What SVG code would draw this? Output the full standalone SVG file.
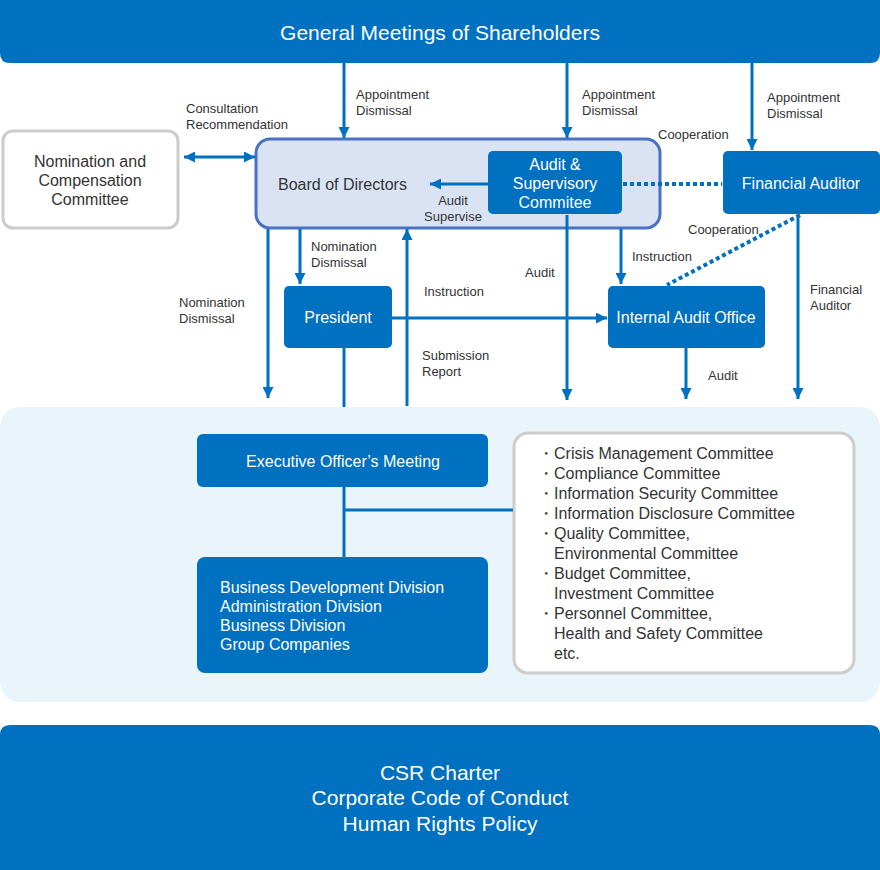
<svg xmlns="http://www.w3.org/2000/svg" width="880" height="870" viewBox="0 0 880 870">
<defs>
<marker id="ah" viewBox="0 0 10 10" refX="10" refY="5" markerWidth="11" markerHeight="11" markerUnits="userSpaceOnUse" orient="auto-start-reverse"><path d="M0,0 L10,5 L0,10 z" fill="#0070C0"/></marker>
<style>
.blue{fill:#0070C0}
.wt{fill:#fff;font-family:"Liberation Sans",Arial,sans-serif;font-size:16px}
.big{fill:#fff;font-family:"Liberation Sans",Arial,sans-serif;font-size:21px}
.lbl{fill:#333;font-family:"Liberation Sans",Arial,sans-serif;font-size:13px}
.dk{fill:#333;font-family:"Liberation Sans",Arial,sans-serif;font-size:16px}
.ln{stroke:#0070C0;stroke-width:3;fill:none}
.ar{stroke:#0070C0;stroke-width:3;fill:none;marker-end:url(#ah)}
.dot{stroke:#0070C0;stroke-width:4;fill:none;stroke-dasharray:4 3}
</style>
</defs>
<rect x="0" y="407" width="880" height="295" rx="20" fill="#EAF4FB"/>
<g id="shareholders"><path class="blue" d="M0,0 H880 V53 Q880,63 870,63 H10 Q0,63 0,53 Z"/><text class="big" x="440" y="40" text-anchor="middle">General Meetings of Shareholders</text></g>
<g id="nomination"><rect x="3" y="131" width="175" height="97" rx="10" fill="#fff" stroke="#CCCCCC" stroke-width="3"/><text class="dk" x="90" y="167" text-anchor="middle">Nomination and</text><text class="dk" x="90" y="186" text-anchor="middle">Compensation</text><text class="dk" x="90" y="205" text-anchor="middle">Committee</text></g>
<g id="board"><rect x="256" y="139" width="404" height="89" rx="14" fill="#DAE3F3" stroke="#4A72C4" stroke-width="3"/><text class="dk" x="278" y="190" fill="#222">Board of Directors</text></g>
<g id="audit-committee"><rect class="blue" x="488" y="151" width="134" height="63" rx="5"/><text class="wt" x="555" y="170" text-anchor="middle">Audit &amp;</text><text class="wt" x="555" y="189" text-anchor="middle">Supervisory</text><text class="wt" x="555" y="208" text-anchor="middle">Commitee</text></g>
<g id="financial-auditor"><rect class="blue" x="723" y="151" width="157" height="63" rx="5"/><text class="wt" x="801" y="189" text-anchor="middle">Financial Auditor</text></g>
<g id="president"><rect class="blue" x="284" y="286" width="108" height="62" rx="5"/><text class="wt" x="338" y="323" text-anchor="middle">President</text></g>
<g id="internal-audit"><rect class="blue" x="608" y="286" width="157" height="62" rx="5"/><text class="wt" x="686" y="323" text-anchor="middle">Internal Audit Office</text></g>
<g id="executive"><rect class="blue" x="197" y="434" width="291" height="53" rx="6"/><text class="wt" x="343" y="467" text-anchor="middle">Executive Officer’s Meeting</text></g>
<g id="divisions"><rect class="blue" x="197" y="557" width="291" height="116" rx="8"/><text class="wt" x="220" y="593">Business Development Division</text><text class="wt" x="220" y="612">Administration Division</text><text class="wt" x="220" y="631">Business Division</text><text class="wt" x="220" y="650">Group Companies</text></g>
<g id="committees"><rect x="514" y="433" width="340" height="240" rx="14" fill="#fff" stroke="#CCCCCC" stroke-width="3"/>
<g class="dk"><text x="538" y="459">・</text><text x="554" y="459">Crisis Management Committee</text>
<text x="538" y="479">・</text><text x="554" y="479">Compliance Committee</text>
<text x="538" y="499">・</text><text x="554" y="499">Information Security Committee</text>
<text x="538" y="519">・</text><text x="554" y="519">Information Disclosure Committee</text>
<text x="538" y="539">・</text><text x="554" y="539">Quality Committee,</text>
<text x="554" y="559">Environmental Committee</text>
<text x="538" y="579">・</text><text x="554" y="579">Budget Committee,</text>
<text x="554" y="599">Investment Committee</text>
<text x="538" y="619">・</text><text x="554" y="619">Personnel Committee,</text>
<text x="554" y="639">Health and Safety Committee</text>
<text x="554" y="659">etc.</text></g></g>
<g id="charter"><path class="blue" d="M0,735 Q0,725 10,725 H870 Q880,725 880,735 V870 H0 Z"/><text class="big" x="440" y="780" text-anchor="middle">CSR Charter</text><text class="big" x="440" y="805" text-anchor="middle">Corporate Code of Conduct</text><text class="big" x="440" y="831" text-anchor="middle">Human Rights Policy</text></g>
<g id="connectors">
<line class="ar" x1="344" y1="63" x2="344" y2="138"/>
<line class="ar" x1="567" y1="63" x2="567" y2="138"/>
<line class="ar" x1="752" y1="63" x2="752" y2="150"/>
<line class="ar" x1="184" y1="157" x2="255" y2="157" style="marker-start:url(#ah)"/>
<line class="ar" x1="488" y1="184" x2="430" y2="184"/>
<line class="dot" x1="623" y1="184" x2="722" y2="184"/>
<line class="dot" x1="800" y1="215" x2="667" y2="285"/>
<line class="ar" x1="268" y1="229" x2="268" y2="398"/>
<line class="ar" x1="300" y1="229" x2="300" y2="284"/>
<line class="ar" x1="407" y1="406" x2="407" y2="229"/>
<line class="ar" x1="567" y1="215" x2="567" y2="400"/>
<line class="ar" x1="621" y1="229" x2="621" y2="284"/>
<line class="ar" x1="798" y1="215" x2="798" y2="399"/>
<line class="ar" x1="392" y1="318" x2="607" y2="318"/>
<line class="ar" x1="686" y1="348" x2="686" y2="399"/>
<line class="ln" x1="344" y1="348" x2="344" y2="407"/>
<line class="ln" x1="344" y1="487" x2="344" y2="557"/>
<line class="ln" x1="344" y1="510" x2="513" y2="510"/>
</g>
<g id="labels" class="lbl">
<text x="356" y="99">Appointment</text><text x="356" y="115">Dismissal</text>
<text x="582" y="99">Appointment</text><text x="582" y="115">Dismissal</text>
<text x="767" y="102">Appointment</text><text x="767" y="118">Dismissal</text>
<text x="186" y="113">Consultation</text><text x="186" y="129">Recommendation</text>
<text x="658" y="139">Cooperation</text>
<text x="453" y="205" text-anchor="middle">Audit</text><text x="453" y="221" text-anchor="middle">Supervise</text>
<text x="688" y="234">Cooperation</text>
<text x="311" y="251">Nomination</text><text x="311" y="267">Dismissal</text>
<text x="632" y="261">Instruction</text>
<text x="525" y="277">Audit</text>
<text x="424" y="296">Instruction</text>
<text x="810" y="294">Financial</text><text x="810" y="310">Auditor</text>
<text x="179" y="307">Nomination</text><text x="179" y="323">Dismissal</text>
<text x="422" y="360">Submission</text><text x="422" y="376">Report</text>
<text x="708" y="380">Audit</text>
</g>
</svg>
